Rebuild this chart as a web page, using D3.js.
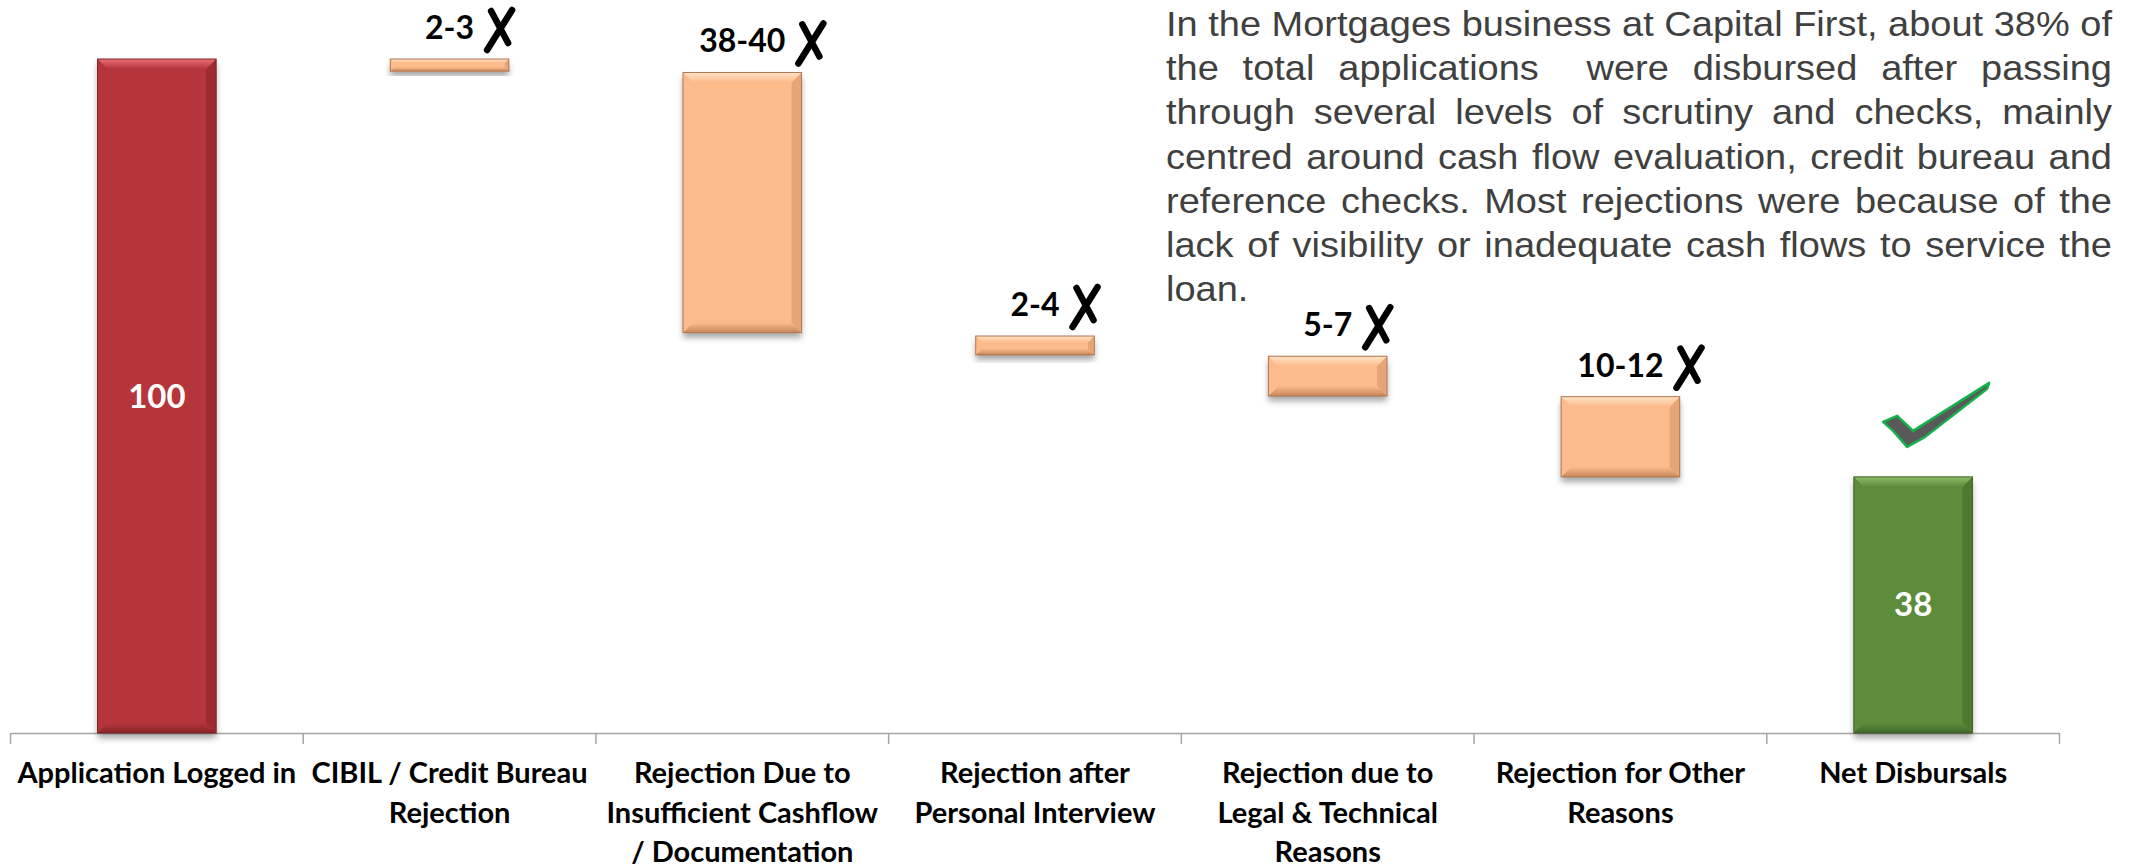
<!DOCTYPE html>
<html lang="en">
<head>
<meta charset="UTF-8">
<title>Mortgages - application funnel</title>
<script src="https://d3js.org/d3.v7.min.js"></script>
<style>
  body { margin: 0; background: #fff; }
  .cat-label { font-family: Lato, "Open Sans", sans-serif; font-weight: 700; font-size: 29px; fill: #000; }
  .range-label { font-family: Lato, "Open Sans", sans-serif; font-weight: 700; font-size: 32px; fill: #000; }
  .value-label { font-family: Lato, "Open Sans", sans-serif; font-weight: 700; font-size: 33px; fill: #fff; }
  .note text { font-family: "Liberation Sans", Arial, sans-serif; font-size: 36px; fill: #404040; }
</style>
</head>
<body>
<svg id="chart" width="2141" height="867"></svg>
<script>
// ---- data ----
const categories = [
  "Application Logged in",
  "CIBIL / Credit Bureau\nRejection",
  "Rejection Due to\nInsufficient Cashflow\n/ Documentation",
  "Rejection after\nPersonal Interview",
  "Rejection due to\nLegal & Technical\nReasons",
  "Rejection for Other\nReasons",
  "Net Disbursals"
];
const barLow  = [0, 98.2, 59.4, 56.1, 50.0, 38.0, 0];
const barHigh = [100, 100, 98.0, 58.9, 55.9, 49.9, 38];
const barType = ["total", "drop", "drop", "drop", "drop", "drop", "net"];
const rangeLabels = ["", "2-3", "38-40", "2-4", "5-7", "10-12", ""];
const valueLabels = ["100", "", "", "", "", "", "38"];
const noteLines = [
  "In the Mortgages business at Capital First, about 38% of",
  "the total applications  were disbursed after passing",
  "through several levels of scrutiny and checks, mainly",
  "centred around cash flow evaluation, credit bureau and",
  "reference checks. Most rejections were because of the",
  "lack of visibility or inadequate cash flows to service the",
  "loan."
];

const palette = {
  total: {base: "#b5353b", light: "#ea6f77", dark: "#87252a", side: "#9a2c31", edge: "#7d2226"},
  drop:  {base: "#fcbb8b", light: "#ffe3c8", dark: "#c8875b", side: "#e6a577", edge: "#b27550"},
  net:   {base: "#5d8c3b", light: "#90bd66", dark: "#416728", side: "#4e7a30", edge: "#3c5f25"}
};

const svg = d3.select("#chart");

const x = d3.scaleBand().domain(categories).range([10.5, 2059.5]).padding(0);
const y = d3.scaleLinear().domain([0, 100]).range([733, 59]);
const barW = x.bandwidth() * 0.405;

// defs: shadow + bevel gradients
const defs = svg.append("defs");
const shadow = defs.append("filter").attr("id", "shadow")
  .attr("x", "-20%").attr("y", "-20%").attr("width", "140%").attr("height", "160%");
shadow.append("feDropShadow").attr("dx", 0).attr("dy", 5).attr("stdDeviation", 3)
  .attr("flood-color", "#000").attr("flood-opacity", 0.35);

Object.entries(palette).forEach(([k, c]) => {
  const top = defs.append("linearGradient").attr("id", "top-" + k)
    .attr("x1", 0).attr("y1", 0).attr("x2", 0).attr("y2", 1);
  top.append("stop").attr("offset", "0%").attr("stop-color", c.light);
  top.append("stop").attr("offset", "100%").attr("stop-color", c.base);
  const bot = defs.append("linearGradient").attr("id", "bot-" + k)
    .attr("x1", 0).attr("y1", 0).attr("x2", 0).attr("y2", 1);
  bot.append("stop").attr("offset", "0%").attr("stop-color", c.base);
  bot.append("stop").attr("offset", "100%").attr("stop-color", c.dark);
});

const bars = categories.map((c, i) => ({
  cat: c, lo: barLow[i], hi: barHigh[i], type: barType[i],
  range: rangeLabels[i], value: valueLabels[i]
}));

// ---- axis ----
const axis = svg.append("g").attr("transform", "translate(0,733)")
  .call(d3.axisBottom(x).tickSize(0).tickFormat(""));
axis.select(".domain").attr("stroke", "#a6a6a6").attr("stroke-width", 1.5);

// tick marks sit between the categories
const edges = categories.map(c => x(c)).concat([x.range()[1]]);
axis.selectAll(".edge-tick").data(edges).enter().append("line")
  .attr("class", "edge-tick")
  .attr("x1", d => d).attr("x2", d => d)
  .attr("y1", 0).attr("y2", 11)
  .attr("stroke", "#a6a6a6").attr("stroke-width", 1.5);

axis.selectAll(".tick").each(function(d) {
  const t = d3.select(this).append("text").attr("class", "cat-label")
    .attr("text-anchor", "middle").attr("y", 50);
  d.split("\n").forEach((line, i) => {
    t.append("tspan").attr("x", 0).attr("dy", i === 0 ? 0 : 39.6).text(line);
  });
});

// ---- bars with a bevel look ----
const barG = svg.selectAll(".bar").data(bars).enter().append("g").attr("class", "bar");

barG.each(function(d) {
  const g = d3.select(this);
  const c = palette[d.type];
  const x0 = x(d.cat) + (x.bandwidth() - barW) / 2, x1 = x0 + barW;
  const y0 = y(d.hi), y1 = y(d.lo);
  const b = Math.min(10, (y1 - y0) / 3);

  g.append("rect").attr("x", x0).attr("y", y0).attr("width", barW).attr("height", y1 - y0)
    .attr("fill", c.base).attr("filter", "url(#shadow)");
  const poly = pts => pts.map(p => p.join(",")).join(" ");
  g.append("polygon").attr("points", poly([[x0, y0], [x0 + b, y0 + b], [x0 + b, y1 - b], [x0, y1]]))
    .attr("fill", c.base).attr("opacity", 0.9);
  g.append("polygon").attr("points", poly([[x1, y0], [x1 - b, y0 + b], [x1 - b, y1 - b], [x1, y1]]))
    .attr("fill", c.side);
  g.append("polygon").attr("points", poly([[x0, y0], [x1, y0], [x1 - b, y0 + b], [x0 + b, y0 + b]]))
    .attr("fill", `url(#top-${d.type})`);
  g.append("polygon").attr("points", poly([[x0, y1], [x1, y1], [x1 - b, y1 - b], [x0 + b, y1 - b]]))
    .attr("fill", `url(#bot-${d.type})`);
  g.append("rect").attr("x", x0).attr("y", y0).attr("width", barW).attr("height", y1 - y0)
    .attr("fill", "none").attr("stroke", c.edge).attr("stroke-width", 1);

  const cx = x0 + barW / 2;

  if (d.value) {
    g.append("text").attr("class", "value-label")
      .attr("x", cx).attr("y", y((d.lo + d.hi) / 2)).attr("dy", "0.35em")
      .attr("text-anchor", "middle").text(d.value);
  }

  if (d.range) {
    const t = g.append("text").attr("class", "range-label")
      .attr("x", cx).attr("y", y0 - 20).attr("text-anchor", "middle").text(d.range);
    const bb = t.node().getBBox();
    // hand drawn cross next to the range
    g.append("path")
      .attr("transform", `translate(${bb.x + bb.width + 12},${y0 - 20})`)
      .attr("d", "M5,-28 L22,4 M26,-29 L1,11")
      .attr("fill", "none").attr("stroke", "#000").attr("stroke-width", 6.5)
      .attr("stroke-linecap", "round");
  }

  if (d.type === "net") {
    const tick = [[-30, -55], [-16, -61], [0, -46], [76, -94], [74, -88], [12, -40], [-6, -30], [-20, -46]];
    g.append("path")
      .attr("d", d3.line().curve(d3.curveLinearClosed)(tick.map(p => [cx + p[0], y0 + p[1]])))
      .attr("fill", "#595959").attr("stroke", "#14b04a").attr("stroke-width", 2.5)
      .attr("stroke-linejoin", "round");
  }
});

// ---- justified commentary ----
const noteLeft = 1166, noteRight = 2112, noteTop = 36, noteStep = 44.2;
const note = svg.append("g").attr("class", "note");
const probe = note.append("text");
const measure = s => { probe.text(s); return probe.node().getComputedTextLength(); };
const spaceW = measure("a a") - measure("aa");
const lines = noteLines.map(l => {
  const words = l.split(" ");
  const widths = words.map(w => w ? measure(w) : 0);
  const sum = d3.sum(widths);
  return {words, widths, sum, natural: sum + spaceW * (words.length - 1)};
});
probe.remove();
const boxW = noteRight - noteLeft;
const sx = d3.min(lines, l => boxW / l.natural);
note.attr("transform", `translate(${noteLeft},${noteTop}) scale(${sx},1)`);

lines.forEach((l, i) => {
  const last = i === lines.length - 1;
  const gap = last ? spaceW : (boxW / sx - l.sum) / (l.words.length - 1);
  let cur = 0;
  l.words.forEach((w, j) => {
    if (w) note.append("text").attr("x", cur).attr("y", i * noteStep).text(w);
    cur += l.widths[j] + gap;
  });
});
</script>
</body>
</html>
